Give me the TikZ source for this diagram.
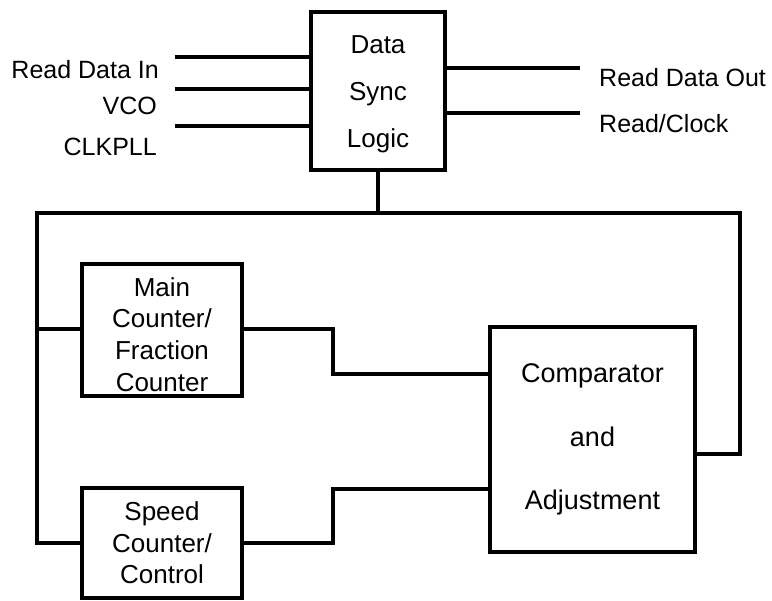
\documentclass[tikz,border=0pt]{standalone}
\usepackage{fontspec}
\setmainfont{Liberation Sans}
\begin{document}
\begin{tikzpicture}[x=1pt,y=-1pt,
  wire/.style={line width=4pt,line join=miter},
  blk/.style={draw,line width=4.5pt,rectangle,inner sep=0pt,align=center,font=\fontsize{26}{31.6}\selectfont},
  txt/.style={inner sep=0pt,align=center},
  lbl/.style={inner sep=0pt,font=\fontsize{25}{30}\selectfont}]
\useasboundingbox (0,0) rectangle (772,601);
% blocks
\node[blk,minimum width=134pt,minimum height=158pt] (ds) at (378,91) {};
\node[txt,font=\fontsize{26}{47}\selectfont] (dst) at (378,94) {Data\\Sync\\Logic};
\node[blk,minimum width=160pt,minimum height=132pt] (mc) at (162,330) {};
\node[txt,font=\fontsize{26}{31.6}\selectfont] (mct) at (162,334.5) {Main\\Counter/\\Fraction\\Counter};
\node[blk,minimum width=160pt,minimum height=110pt] (sc) at (162,543) {Speed\\Counter/\\Control};
\node[blk,minimum width=205pt,minimum height=225pt,font=\fontsize{27}{63.5}\selectfont] (cmp) at (592.5,439.5) {Comparator\\and\\Adjustment};
% input labels
\node[lbl,anchor=base east] (l1) at (159,79) {Read Data In};
\node[lbl,anchor=base east] (l2) at (157,115) {VCO};
\node[lbl,anchor=base east] (l3) at (157,156) {CLKPLL};
\node[lbl,anchor=base west] (r1) at (599,87) {Read Data Out};
\node[lbl,anchor=base west] (r2) at (599,133) {Read/Clock};
% input wires
\coordinate (i1) at (175,57);
\coordinate (i2) at (175,89);
\coordinate (i3) at (175,126);
\draw[wire] (i1) -- (i1 -| ds.west);
\draw[wire] (i2) -- (i2 -| ds.west);
\draw[wire] (i3) -- (i3 -| ds.west);
% output wires
\coordinate (o1) at (580,68);
\coordinate (o2) at (580,113);
\draw[wire] (o1 -| ds.east) -- (o1);
\draw[wire] (o2 -| ds.east) -- (o2);
% bus
\coordinate (bl) at (37,213);
\coordinate (br) at (740,213);
\coordinate (lb) at (37,543);
\coordinate (rb) at (740,454);
\draw[wire] (ds.south) -- (ds.south |- bl);
\draw[wire] (sc.west) -- (lb) -- (bl) -- (br) -- (rb) -- (rb -| cmp.east);
\coordinate (mt) at (37,329);
\draw[wire] (mt) -- (mt -| mc.west);
% main counter to comparator
\coordinate (m1) at (333,329);
\coordinate (m2) at (333,374);
\draw[wire] (m1 -| mc.east) -- (m1) -- (m2) -- (m2 -| cmp.west);
% speed counter to comparator
\coordinate (s1) at (333,543);
\coordinate (s2) at (333,489);
\draw[wire] (sc.east) -- (s1) -- (s2) -- (s2 -| cmp.west);
\end{tikzpicture}
\end{document}
